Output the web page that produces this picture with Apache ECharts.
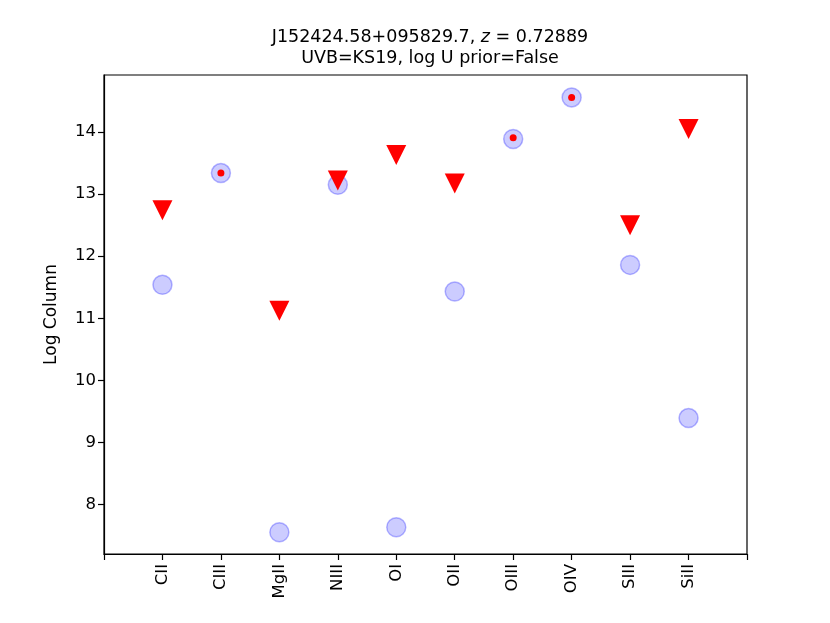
<!DOCTYPE html>
<html>
<head>
<meta charset="utf-8">
<script src="https://cdn.jsdelivr.net/npm/echarts@6/dist/echarts.min.js"></script>
<style>html,body{margin:0;padding:0;background:#fff}#c{width:830px;height:623px}</style>
</head>
<body>
<div id="c"></div>
<script>
const categories = ["CII","CIII","MgII","NIII","OI","OII","OIII","OIV","SIII","SiII"];
const modelColumns = [11.54, 13.34, 7.55, 13.15, 7.63, 11.43, 13.89, 14.56, 11.86, 9.39];
const upperLimitIons = ["CII","MgII","NIII","OI","OII","SIII","SiII"];
const upperLimitValues = [12.74, 11.12, 13.22, 13.63, 13.17, 12.50, 14.05];
const detectionIons = ["CIII","OIII","OIV"];
const detectionValues = [13.34, 13.91, 14.56];
const yTicks = [8, 9, 10, 11, 12, 13, 14];

const pos = name => categories.indexOf(name) + 1;
const font = "DejaVu Sans";

const chart = echarts.init(document.getElementById('c'), null, {renderer: 'canvas'});
chart.setOption({
  animation: false,
  backgroundColor: '#fff',
  title: {
    left: 425, top: 22, textAlign: 'center',
    text: '{a|J152424.58+095829.7, }{i|z}{a| = 0.72889}\n{a|UVB=KS19, log U prior=False}',
    textStyle: {
      fontWeight: 'normal',
      rich: {
        a: {fontFamily: font, fontSize: 17.5, color: '#000', fontWeight: 'normal', lineHeight: 21},
        i: {fontFamily: font, fontSize: 17.5, color: '#000', fontWeight: 'normal', fontStyle: 'italic', lineHeight: 21}
      }
    }
  },
  grid: {left: 104, right: 83, top: 75, bottom: 69, show: true, borderColor: '#000', borderWidth: 1.2, backgroundColor: 'transparent'},
  xAxis: {
    type: 'value', min: 0, max: 11, interval: 1,
    axisLine: {show: true, lineStyle: {color: '#000', width: 1.2}},
    axisTick: {show: true, length: 6, lineStyle: {color: '#000', width: 1.2}},
    splitLine: {show: false},
    axisLabel: {
      rotate: 90, margin: 10, color: '#000', fontFamily: font, fontSize: 16.5,
      showMinLabel: true, showMaxLabel: true,
      formatter: v => (v >= 1 && v <= categories.length) ? categories[v - 1] : ''
    }
  },
  yAxis: {
    type: 'value', min: 7.199, max: 14.921,
    name: 'Log Column', nameLocation: 'middle', nameGap: 44, nameRotate: 90,
    nameTextStyle: {fontFamily: font, fontSize: 17, color: '#000'},
    axisLine: {show: true, lineStyle: {color: '#000', width: 1.2}},
    axisTick: {show: true, length: 6, lineStyle: {color: '#000', width: 1.2}, customValues: yTicks},
    splitLine: {show: false},
    axisLabel: {color: '#000', fontFamily: font, fontSize: 16.5, margin: 8, customValues: yTicks}
  },
  series: [
    {
      type: 'scatter', symbol: 'circle', symbolSize: 19,
      itemStyle: {color: 'rgba(0,0,255,0.2)', borderColor: 'rgba(0,0,255,0.28)', borderWidth: 1.5, opacity: 1},
      data: categories.map((c, i) => [pos(c), modelColumns[i]]),
      z: 2
    },
    {
      type: 'scatter', symbol: 'triangle', symbolRotate: 180, symbolSize: [20, 20],
      itemStyle: {color: '#ff0000', opacity: 1},
      data: upperLimitIons.map((c, i) => [pos(c), upperLimitValues[i]]),
      z: 3
    },
    {
      type: 'scatter', symbol: 'circle', symbolSize: 7,
      itemStyle: {color: '#ff0000', opacity: 1},
      data: detectionIons.map((c, i) => [pos(c), detectionValues[i]]),
      z: 4
    }
  ]
});
</script>
</body>
</html>
